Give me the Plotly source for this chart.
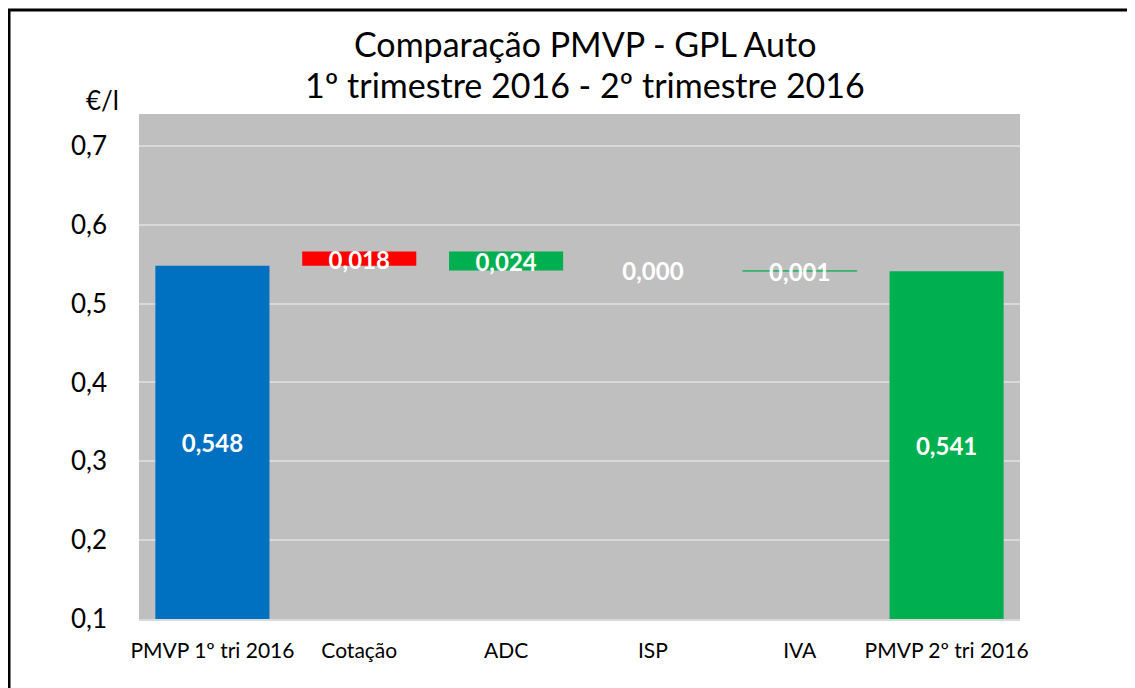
import plotly.graph_objects as go

categories = ["PMVP 1º tri 2016", "Cotação", "ADC", "ISP", "IVA", "PMVP 2º tri 2016"]
start_value = 0.548
changes = [0.018, -0.024, 0.000, -0.001]
end_value = 0.541
bar_colors = ["#0070C0", "#FF0000", "#00B050", "#00B050", "#3CB371", "#00B050"]
y_ticks = [0.1, 0.2, 0.3, 0.4, 0.5, 0.6, 0.7]
title_lines = ["Comparação PMVP - GPL Auto", "1º trimestre 2016 - 2º trimestre 2016"]

FONT = "Lato"
y_min, y_max = 0.1, 0.7405
label_dy = -0.005  # small visual nudge of the value labels

# build bases and heights from the data
bases, heights, labels, label_y = [], [], [], []
bases.append(0)
heights.append(start_value)
labels.append(f"{start_value:.3f}".replace(".", ","))
label_y.append((y_min + start_value) / 2 + label_dy)
level = start_value
for c in changes:
    lo = min(level, level + c)
    bases.append(lo)
    heights.append(abs(c))
    labels.append(f"{abs(c):.3f}".replace(".", ","))
    label_y.append(lo + abs(c) / 2 + label_dy)
    level += c
bases.append(0)
heights.append(end_value)
labels.append(f"{end_value:.3f}".replace(".", ","))
label_y.append((y_min + end_value) / 2 + label_dy)

fig = go.Figure()
fig.add_trace(go.Bar(
    x=categories, y=heights, base=bases,
    marker=dict(color=bar_colors, line=dict(color=bar_colors, width=[0, 0, 0, 0, 1, 0])),
    hoverinfo="skip", showlegend=False,
))
fig.add_trace(go.Scatter(
    x=categories, y=label_y, mode="text", text=labels,
    textfont=dict(family=FONT, size=24, color="white", weight="bold"),
    hoverinfo="skip", showlegend=False, cliponaxis=False,
))

# page body margin of 8px shifts the figure; compensate
OFF = 8
W, H = 1135 - OFF, 688 - OFF
L = 139 - OFF
T = 114 - OFF
R = 1135 - 1020
B = 688 - 619
pw, ph = W - L - R, H - T - B

def px_to_paper_x(px):
    return (px - OFF - L) / pw

def px_to_paper_y(py):
    return (H - B - (py - OFF)) / ph

annotations = [
    dict(text="€/l", xref="paper", yref="paper",
         x=px_to_paper_x(102), y=px_to_paper_y(100),
         xanchor="center", yanchor="middle", showarrow=False,
         font=dict(family=FONT, size=26, color="black")),
    dict(text=title_lines[0], xref="paper", yref="paper",
         x=px_to_paper_x(585), y=px_to_paper_y(43),
         xanchor="center", yanchor="middle", showarrow=False,
         font=dict(family=FONT, size=34, color="black")),
    dict(text=title_lines[1], xref="paper", yref="paper",
         x=px_to_paper_x(585), y=px_to_paper_y(85),
         xanchor="center", yanchor="middle", showarrow=False,
         font=dict(family=FONT, size=34, color="black")),
]

fig.update_layout(
    width=W, height=H,
    margin=dict(l=L, r=R, t=T, b=B, pad=0),
    paper_bgcolor="white", plot_bgcolor="#BFBFBF",
    separators=",.",
    bargap=0.223,
    font=dict(family=FONT, color="black"),
    xaxis=dict(
        showgrid=False, showline=True, linecolor="#D9D9D9", linewidth=2,
        tickfont=dict(family=FONT, size=21, color="black"),
        ticks="", ticklabelstandoff=12,
    ),
    yaxis=dict(
        range=[y_min, y_max], tickvals=y_ticks, tickformat=".1f",
        showgrid=True, gridcolor="#D9D9D9", gridwidth=2,
        zeroline=False, showline=False,
        tickfont=dict(family=FONT, size=26, color="black"),
        ticks="", ticklabelstandoff=31,
    ),
    annotations=annotations,
    shapes=[
        dict(type="line", xref="paper", yref="paper",
             x0=px_to_paper_x(9), x1=px_to_paper_x(9),
             y0=px_to_paper_y(9), y1=px_to_paper_y(700),
             line=dict(color="black", width=3)),
        dict(type="line", xref="paper", yref="paper",
             x0=px_to_paper_x(8), x1=px_to_paper_x(1140),
             y0=px_to_paper_y(10), y1=px_to_paper_y(10),
             line=dict(color="black", width=3)),
    ],
)

fig.write_html("out.html")
